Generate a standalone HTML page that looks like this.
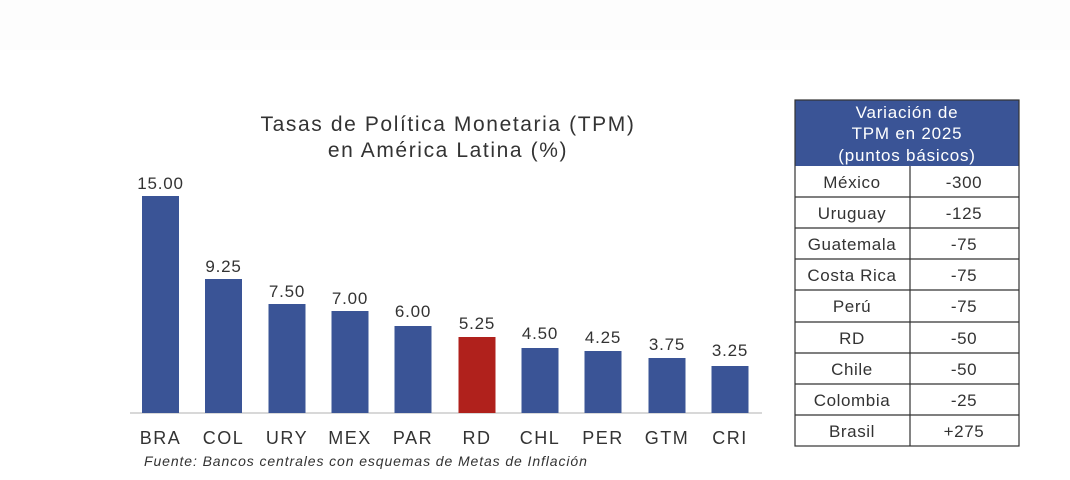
<!DOCTYPE html>
<html><head><meta charset="utf-8"><style>
body{margin:0;width:1070px;height:475px;background:#fff;overflow:hidden;font-family:"Liberation Sans",sans-serif;}
</style></head><body>
<svg width="1070" height="475" xmlns="http://www.w3.org/2000/svg" font-family="Liberation Sans, sans-serif">
<rect x="0" y="0" width="1070" height="50" fill="#fdfdfd"/>
<text x="448" y="131" font-size="21" letter-spacing="1.6" text-anchor="middle" fill="#333">Tasas de Política Monetaria (TPM)</text>
<text x="448" y="157" font-size="21" letter-spacing="1.6" text-anchor="middle" fill="#333">en América Latina (%)</text>
<line x1="130" y1="413" x2="762" y2="413" stroke="#ccc" stroke-width="1.5"/>
<g font-size="17" letter-spacing="0.8" fill="#333" text-anchor="middle">
<rect x="142" y="196" width="37" height="217" fill="#3a5496"/><text x="160.5" y="189">15.00</text><text x="160.5" y="444" font-size="18" letter-spacing="1.5">BRA</text>
<rect x="205" y="279" width="37" height="134" fill="#3a5496"/><text x="223.5" y="272">9.25</text><text x="223.5" y="444" font-size="18" letter-spacing="1.5">COL</text>
<rect x="268.5" y="304" width="37" height="109" fill="#3a5496"/><text x="287" y="297">7.50</text><text x="287" y="444" font-size="18" letter-spacing="1.5">URY</text>
<rect x="331.5" y="311" width="37" height="102" fill="#3a5496"/><text x="350" y="304">7.00</text><text x="350" y="444" font-size="18" letter-spacing="1.5">MEX</text>
<rect x="394.5" y="326" width="37" height="87" fill="#3a5496"/><text x="413" y="317">6.00</text><text x="413" y="444" font-size="18" letter-spacing="1.5">PAR</text>
<rect x="458.5" y="337" width="37" height="76" fill="#b0211c"/><text x="477" y="329">5.25</text><text x="477" y="444" font-size="18" letter-spacing="1.5">RD</text>
<rect x="521.5" y="348" width="37" height="65" fill="#3a5496"/><text x="540" y="339">4.50</text><text x="540" y="444" font-size="18" letter-spacing="1.5">CHL</text>
<rect x="584.5" y="351" width="37" height="62" fill="#3a5496"/><text x="603" y="343">4.25</text><text x="603" y="444" font-size="18" letter-spacing="1.5">PER</text>
<rect x="648.5" y="358" width="37" height="55" fill="#3a5496"/><text x="667" y="350">3.75</text><text x="667" y="444" font-size="18" letter-spacing="1.5">GTM</text>
<rect x="711.5" y="366" width="37" height="47" fill="#3a5496"/><text x="730" y="356">3.25</text><text x="730" y="444" font-size="18" letter-spacing="1.5">CRI</text>
</g>
<text x="144" y="466" font-size="14" letter-spacing="0.9" font-style="italic" fill="#333">Fuente: Bancos centrales con esquemas de Metas de Inflación</text>
<rect x="795" y="100" width="224" height="66" fill="#3a5496"/>
<g font-size="17" letter-spacing="0.8" fill="#fff" text-anchor="middle">
<text x="907" y="118">Variación de</text><text x="907" y="139">TPM en 2025</text><text x="907" y="161">(puntos básicos)</text>
</g>
<g stroke="#333" stroke-width="1.2" fill="none">
<rect x="795" y="100" width="224" height="346"/>
<line x1="910" y1="166" x2="910" y2="446"/>
<line x1="795" y1="197" x2="1019" y2="197"/><line x1="795" y1="228" x2="1019" y2="228"/>
<line x1="795" y1="259" x2="1019" y2="259"/><line x1="795" y1="290" x2="1019" y2="290"/>
<line x1="795" y1="322" x2="1019" y2="322"/><line x1="795" y1="353" x2="1019" y2="353"/>
<line x1="795" y1="384" x2="1019" y2="384"/><line x1="795" y1="415" x2="1019" y2="415"/>
</g>
<g font-size="17" letter-spacing="0.6" fill="#333" text-anchor="middle">
<text x="852" y="188">México</text><text x="964" y="188">-300</text>
<text x="852" y="219">Uruguay</text><text x="964" y="219">-125</text>
<text x="852" y="250">Guatemala</text><text x="964" y="250">-75</text>
<text x="852" y="281">Costa Rica</text><text x="964" y="281">-75</text>
<text x="852" y="312">Perú</text><text x="964" y="312">-75</text>
<text x="852" y="344">RD</text><text x="964" y="344">-50</text>
<text x="852" y="375">Chile</text><text x="964" y="375">-50</text>
<text x="852" y="406">Colombia</text><text x="964" y="406">-25</text>
<text x="852" y="437">Brasil</text><text x="964" y="437">+275</text>
</g>
</svg>
</body></html>
